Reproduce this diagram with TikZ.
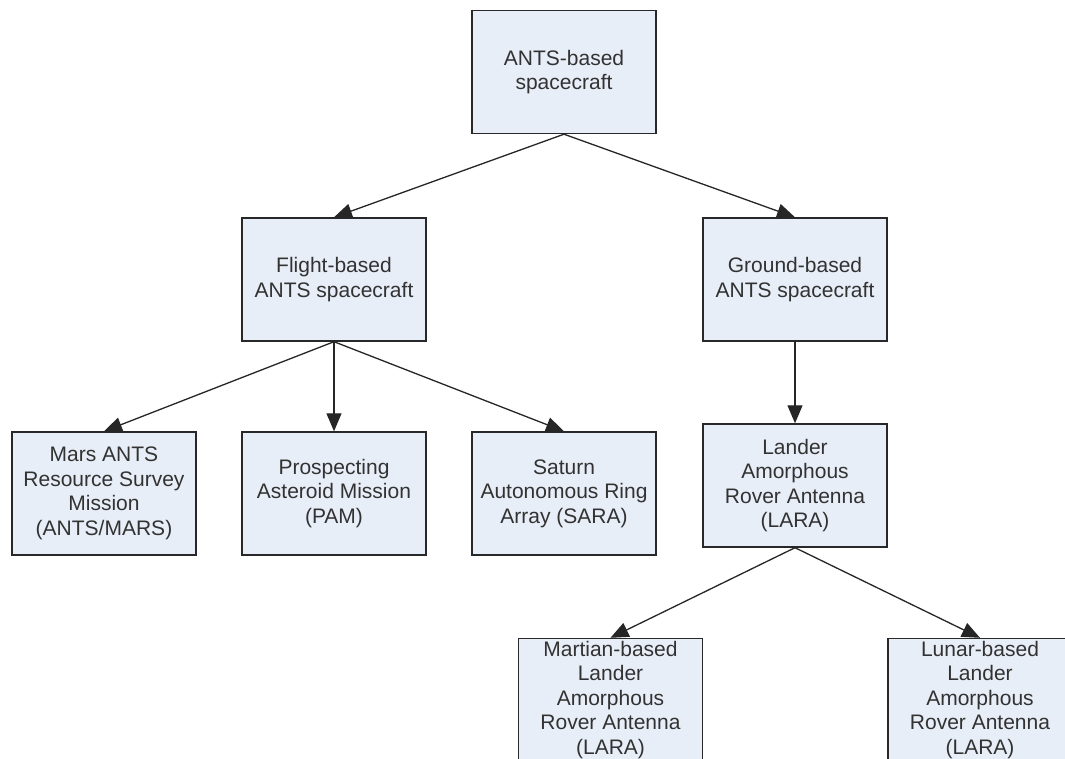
\documentclass[tikz,border=0pt]{standalone}
\usepackage{fontspec}
\setmainfont{Liberation Sans}
\usetikzlibrary{arrows.meta}
\definecolor{boxfill}{RGB}{232,238,248}
\definecolor{boxline}{RGB}{40,40,40}
\definecolor{labeltext}{RGB}{50,50,50}
\begin{document}
\begin{tikzpicture}[x=1pt,y=-1pt,
  unit/.style={draw=boxline, line width=1.4pt, fill=boxfill,
    minimum width=184pt, minimum height=123pt, inner sep=0pt,
    align=center, text=labeltext, font=\fontsize{21}{24.5}\selectfont},
  link/.style={draw=black!85, line width=1.3pt,
    -{Triangle[length=18pt,width=15pt]}}]
\useasboundingbox (0,0) rectangle (1065,759);
\clip (0,0) rectangle (1065,759);
\fill[white] (0,0) rectangle (1065,759);

% tree of spacecraft types
\node[unit] (root)    at (564,72)      {ANTS-based\\spacecraft};
\node[unit] (flight)  at (334,279.5)   {Flight-based\\ANTS spacecraft};
\node[unit] (ground)  at (795,279.5)   {Ground-based\\ANTS spacecraft};
\node[unit] (mars)    at (104,493.5)   {Mars ANTS\\Resource Survey\\Mission\\(ANTS/MARS)};
\node[unit] (pam)     at (334,493.5)   {Prospecting\\Asteroid Mission\\(PAM)};
\node[unit] (sara)    at (564,493.5)   {Saturn\\Autonomous Ring\\Array (SARA)};
\node[unit] (lara)    at (795,485.5)   {Lander\\Amorphous\\Rover Antenna\\(LARA)};
\node[unit] (martian) at (610.5,700)   {Martian-based\\Lander\\Amorphous\\Rover Antenna\\(LARA)};
\node[unit] (lunar)   at (980,700)     {Lunar-based\\Lander\\Amorphous\\Rover Antenna\\(LARA)};

% connectors
\draw[link] (root.south)   -- (flight.north);
\draw[link] (root.south)   -- (ground.north);
\draw[link] (flight.south) -- (mars.north);
\draw[link] (flight.south) -- (pam.north);
\draw[link] (flight.south) -- (sara.north);
\draw[link] (ground.south) -- (lara.north);
\draw[link] (lara.south)   -- (martian.north);
\draw[link] (lara.south)   -- (lunar.north);
\end{tikzpicture}
\end{document}
